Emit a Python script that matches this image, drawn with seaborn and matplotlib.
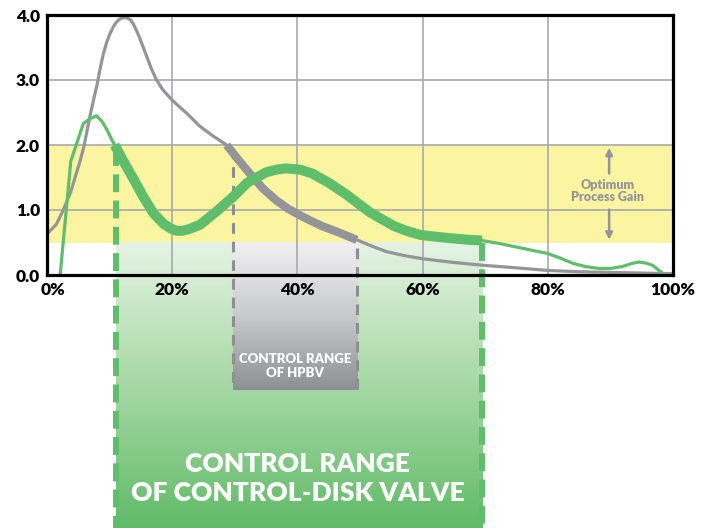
import numpy as np
import matplotlib
matplotlib.use("Agg")
import matplotlib.pyplot as plt
import matplotlib.transforms as mtransforms
from matplotlib.colors import LinearSegmentedColormap
import seaborn as sns

# ---------------- data ----------------
# HPBV (gray) curve: thin part, thick (control range) part, thin tail
gray_x_a = [0, 1.5, 2.6, 3.8, 4.7, 5.3, 5.9, 6.4, 6.9, 7.5, 8.0, 8.5, 9.0, 9.5, 10.0, 10.6,
            11.0, 11.5, 11.9, 12.4, 12.9, 13.4, 13.8, 14.3, 14.8, 15.3, 15.9, 16.6, 17.5,
            18.5, 19.7, 21.0, 22.3, 24.4, 26.5, 28.7]
gray_y_a = [0.63, 0.78, 1.0, 1.28, 1.57, 1.76, 1.98, 2.22, 2.46, 2.72, 2.93, 3.18, 3.40, 3.57,
            3.70, 3.82, 3.88, 3.93, 3.95, 3.96, 3.95, 3.92, 3.86, 3.76, 3.65, 3.52, 3.37,
            3.19, 3.0, 2.85, 2.72, 2.6, 2.49, 2.29, 2.14, 2.0]
gray_x_b = [28.7, 30.5, 32.4, 34.5, 36.6, 38.5, 40.0, 42.0, 44.0, 46.2, 48.0, 49.5]
gray_y_b = [2.0, 1.78, 1.56, 1.33, 1.15, 1.02, 0.94, 0.84, 0.75, 0.67, 0.6, 0.54]
gray_x_c = [49.5, 52.0, 54.2, 57.0, 60.0, 64.3, 69.6, 75.0, 80.0, 85.0, 90.0, 95.0, 100.0]
gray_y_c = [0.54, 0.44, 0.36, 0.3, 0.25, 0.2, 0.15, 0.11, 0.07, 0.05, 0.04, 0.03, 0.02]

# Control-disk valve (green) curve
green_x_a = [2.1, 3.8, 5.8, 6.8, 7.9, 8.8, 9.6, 10.2, 10.8]
green_y_a = [0.0, 1.75, 2.33, 2.40, 2.45, 2.36, 2.23, 2.11, 2.0]
green_x_b = [10.8, 12.2, 13.8, 15.4, 17.0, 18.7, 19.7, 20.7, 21.6, 22.5, 24.4, 27.1, 29.7,
             32.0, 35.0, 36.6, 38.2, 40.5, 42.4, 45.0, 47.8, 51.5, 53.1, 55.5, 57.4, 59.5,
             61.1, 64.0, 67.5, 69.5]
green_y_b = [2.0, 1.75, 1.48, 1.2, 0.95, 0.78, 0.72, 0.68, 0.68, 0.7, 0.77, 0.98, 1.2,
             1.42, 1.58, 1.62, 1.64, 1.62, 1.56, 1.42, 1.24, 0.97, 0.88, 0.75, 0.68, 0.62,
             0.6, 0.57, 0.54, 0.53]
green_x_c = [69.5, 72.5, 76.0, 80.0, 82.0, 84.0, 86.0, 88.2, 90.0, 91.9, 93.5, 94.6, 95.8, 96.7, 98.3]
green_y_c = [0.53, 0.48, 0.41, 0.33, 0.26, 0.18, 0.13, 0.10, 0.10, 0.13, 0.18, 0.20, 0.18, 0.15, 0.03]

gain_band = [0.5, 2.0]
disk_range = [11.0, 69.5]
hpbv_range = [29.7, 49.6]

x_ticks = [0, 20, 40, 60, 80, 100]
x_labels = ["0%", "20%", "40%", "60%", "80%", "100%"]
y_ticks = [0, 1, 2, 3, 4]
y_labels = ["0.0", "1.0", "2.0", "3.0", "4.0"]

# ---------------- style ----------------
sns.set_style("white")
plt.rcParams["font.family"] = ["Lato", "DejaVu Sans"]

GREEN = "#5fbe6b"
GRAY = "#939598"
YELLOW = "#fbf5a2"
GRID = "#a7a9ac"
HEAVY = "heavy"

fig = plt.figure(figsize=(7.13, 5.28), dpi=100)
ax = fig.add_axes([47 / 713, 1 - 275 / 528, 626 / 713, 260 / 528])

# yellow optimum band
ax.axhspan(gain_band[0], gain_band[1], color=YELLOW, zorder=0.5, lw=0)

# gradient regions (extend below axes)
y_bottom = -3.9
green_cmap = LinearSegmentedColormap.from_list("g", ["#e6f3e4", "#a6d8a4", "#60bb68"])
grad = np.linspace(0, 1, 256).reshape(-1, 1)
im = ax.imshow(grad, cmap=green_cmap, aspect="auto", origin="upper",
               extent=[disk_range[0], disk_range[1], y_bottom, gain_band[0]], zorder=0.6)
im.set_clip_on(False)
gray_cmap = LinearSegmentedColormap.from_list("k", ["#f0f0f1", "#c9cacc", "#8e8f93"])
im2 = ax.imshow(grad, cmap=gray_cmap, aspect="auto", origin="upper",
                extent=[hpbv_range[0], hpbv_range[1], -1.77, gain_band[0]], zorder=0.7)
im2.set_clip_on(False)

# grid
for xv in x_ticks[1:-1]:
    ax.axvline(xv, color=GRID, lw=1.2, zorder=1)
for yv in y_ticks[1:-1]:
    ax.axhline(yv, color=GRID, lw=1.2, zorder=1)

# dashed range markers
ax.plot([disk_range[0]] * 2, [1.95, y_bottom], color=GREEN, lw=4.3,
        dashes=(3.0, 1.4), zorder=2.5, clip_on=False)
ax.plot([disk_range[1]] * 2, [0.5, y_bottom], color=GREEN, lw=4.3,
        dashes=(3.0, 1.4), zorder=2.5, clip_on=False)
ax.plot([hpbv_range[0]] * 2, [1.95, -1.77], color="#8e8f93", lw=2.2,
        dashes=(3.5, 2.6), zorder=2.5, clip_on=False)
ax.plot([hpbv_range[1]] * 2, [0.42, -1.77], color="#8e8f93", lw=2.2,
        dashes=(3.5, 2.6), zorder=2.5, clip_on=False)

# curves
kw = dict(estimator=None, sort=False, ax=ax, legend=False)
sns.lineplot(x=gray_x_a, y=gray_y_a, color=GRAY, lw=2.3, zorder=3, **kw)
sns.lineplot(x=gray_x_b, y=gray_y_b, color=GRAY, lw=6.0, zorder=3, solid_capstyle="butt", **kw)
sns.lineplot(x=gray_x_c, y=gray_y_c, color=GRAY, lw=2.3, zorder=3, **kw)
sns.lineplot(x=green_x_a, y=green_y_a, color=GREEN, lw=2.3, zorder=3.2, **kw)
sns.lineplot(x=green_x_b, y=green_y_b, color=GREEN, lw=7.2, zorder=3.2, solid_capstyle="butt", **kw)
sns.lineplot(x=green_x_c, y=green_y_c, color=GREEN, lw=2.3, zorder=3.2, **kw)

# optimum gain annotation
ax.annotate("", xy=(89.8, 2.0), xytext=(89.8, 1.52),
            arrowprops=dict(arrowstyle="-|>", color=GRAY, lw=1.8, mutation_scale=10), zorder=4)
ax.annotate("", xy=(89.8, 0.5), xytext=(89.8, 1.05),
            arrowprops=dict(arrowstyle="-|>", color=GRAY, lw=1.8, mutation_scale=10), zorder=4)
ax.text(89.6, 1.29, "Optimum\nProcess Gain", color=GRAY, fontsize=9, fontweight=HEAVY,
        ha="center", va="center", linespacing=0.95, zorder=4)

# range labels
ax.text((hpbv_range[0] + hpbv_range[1]) / 2, -1.4, "CONTROL RANGE\nOF HPBV", color="white",
        fontsize=9.5, fontweight=HEAVY, ha="center", va="center", linespacing=1.15,
        clip_on=False, zorder=5)
ax.text(40.0, -3.13, "CONTROL RANGE\nOF CONTROL-DISK VALVE", color="white",
        fontsize=19, fontweight=HEAVY, ha="center", va="center", linespacing=1.25,
        clip_on=False, zorder=5)

# axes
ax.set_xlim(0, 100)
ax.set_ylim(0, 4)
ax.set_xticks(x_ticks)
ax.set_xticklabels(x_labels)
ax.set_yticks(y_ticks)
ax.set_yticklabels(y_labels)
ax.tick_params(axis="both", length=0, labelsize=12.5, colors="black")
ax.tick_params(axis="x", pad=5)
ax.tick_params(axis="y", pad=5)
for lab in ax.get_xticklabels() + ax.get_yticklabels():
    lab.set_fontweight(HEAVY)
first = ax.get_xticklabels()[0]
first.set_transform(first.get_transform() + mtransforms.ScaledTranslation(6 / 100, 0, fig.dpi_scale_trans))
ax.xaxis.set_zorder(7)
ax.yaxis.set_zorder(7)
ax.set_xlabel("")
ax.set_ylabel("")
for sp in ax.spines.values():
    sp.set_visible(True)
    sp.set_color("black")
    sp.set_linewidth(2.3)
    sp.set_zorder(6)

fig.savefig("out.png", dpi=100, facecolor="white")
